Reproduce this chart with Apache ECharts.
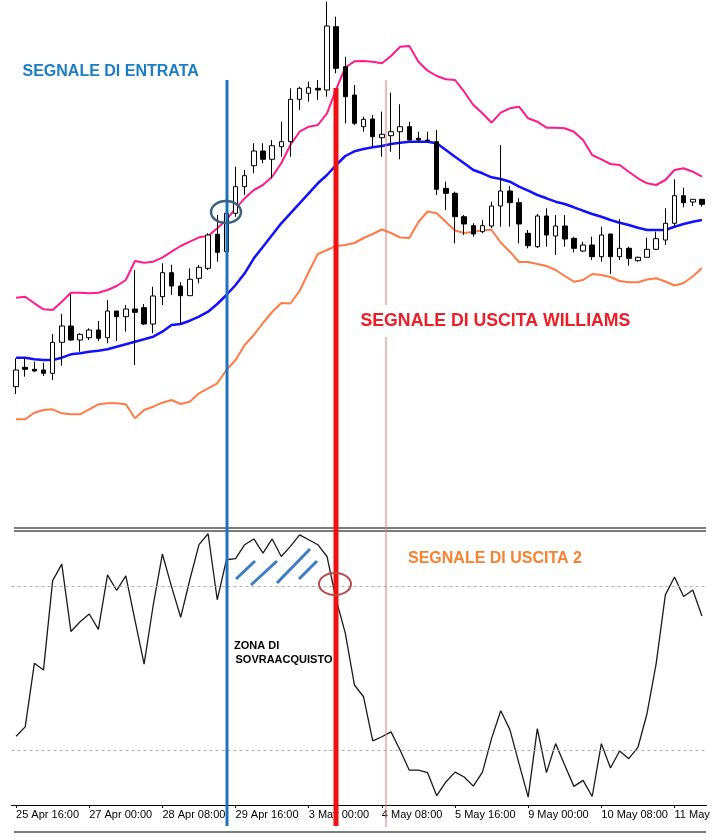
<!DOCTYPE html>
<html>
<head>
<meta charset="utf-8">
<script src="https://cdn.jsdelivr.net/npm/echarts@6/dist/echarts.min.js"></script>
<style>
  html, body { margin: 0; padding: 0; background: #fff; }
  #chart { width: 720px; height: 840px; }
</style>
</head>
<body>
<div id="chart"></div>
<script>
// etichette dell'asse tempo (una ogni 8 candele H4)
const tickLabels = ['25 Apr 16:00', '27 Apr 00:00', '28 Apr 08:00', '29 Apr 16:00', '3 May 00:00',
  '4 May 08:00', '5 May 16:00', '9 May 00:00', '10 May 08:00', '11 May']

// candele: apertura, chiusura, minimo, massimo
const opens = [213.3, 232.7, 230.7, 230, 226.7, 257.7, 274, 260, 262.3, 270,
  262.3, 289, 283.3, 291, 292.3, 276, 303.3, 327.3, 314, 304.3,
  321.7, 331.7, 365.7, 348.3, 386.7, 413.3, 434.3, 449, 440.7, 453.3,
  458.3, 500.7, 506.7, 511.7, 510, 573.3, 533.3, 505, 473.3, 481,
  462.3, 464.3, 468.3, 473.3, 461.7, 460, 458.3, 411.7, 406.7, 383.3,
  374.3, 368.3, 374, 394, 409, 397.3, 366.7, 353.3, 384, 364,
  374, 361.7, 349, 355, 343.3, 366, 343.3, 351.7, 339.3, 342.7,
  350.7, 360, 376.7, 404.3, 398, 400.7]
const closes = [230, 230.7, 229, 226.7, 257.7, 274, 260, 265.7, 270, 261.7,
  289, 283.3, 291, 287.7, 276, 304, 327.3, 314, 304.3, 320.7,
  332.7, 365, 347.7, 386.7, 413.3, 424.3, 449, 440.7, 454.3, 458.3,
  500.7, 511.7, 512.3, 510, 574, 531.7, 503.3, 476.7, 480.7, 463.3,
  465.7, 468.3, 473.3, 460, 460, 459.5, 410.7, 406.7, 383.3, 376,
  366, 374.3, 394, 409, 397.3, 376, 354.3, 384, 365, 374,
  361, 351.7, 355, 343.3, 365, 343.3, 351.7, 341.7, 342.7, 350.7,
  361.3, 376.7, 404.3, 397.3, 400.7, 395.7]
const lows = [206, 223.3, 228.3, 224, 220, 234.3, 259, 248.3, 260, 259,
  256.7, 259, 268.3, 235, 275, 266.7, 295, 305, 276.7, 304,
  316.7, 330, 338.3, 347, 383.3, 405, 426.7, 436.7, 421.7, 443.3,
  443.3, 490, 498.3, 500, 503.3, 526.7, 476.7, 475, 468.3, 453.3,
  443.3, 448.3, 440.7, 458.3, 458.3, 458.3, 405, 390, 356.7, 365,
  363.3, 366.7, 371.7, 373.3, 373.3, 356.7, 351.7, 352, 353.3, 345,
  353.3, 347.7, 347.7, 340, 338.3, 326, 340, 334.3, 338.3, 342.7,
  350, 355, 373.3, 392.7, 394, 393.3]
const highs = [241.7, 241.7, 238.3, 237.3, 266, 286, 306, 266.7, 271.7, 279,
  300, 289, 295, 330, 296, 313.3, 336.7, 335.3, 317.7, 331.7,
  335, 366.7, 385, 389, 433.3, 430, 456.7, 456.7, 460, 478.3,
  511.7, 513.3, 518.3, 520, 598.3, 583.3, 543.3, 515, 483.3, 485,
  488.3, 507.3, 495.7, 478.3, 468.3, 468.3, 470, 418.3, 408.3, 385,
  376.7, 380, 398.3, 455, 414, 401.7, 370, 386, 391.7, 385,
  385, 363.3, 358.3, 363.3, 373.3, 366, 380.7, 353.3, 343.3, 362.3,
  368.3, 391.7, 420.7, 412.3, 401, 400.7]

// bande (superiore, media, inferiore)
const upperBand = [302.3, 303.3, 296.7, 290.7, 290, 298.3, 307.3, 307.3, 306.7, 307.3,
  310, 314, 320, 339, 337.3, 338.3, 342.3, 348.3, 354, 358.3,
  362.7, 364, 371.7, 380, 391.7, 401.7, 410, 415, 423.3, 436.7,
  455, 468.3, 473.3, 475, 486.7, 510.7, 532.5, 538.7, 539, 538.3,
  536.7, 544, 553.3, 554, 538.3, 529.3, 524, 520.7, 520, 508.3,
  495, 486.7, 477.3, 487.3, 491.7, 493.3, 481.7, 478.3, 472.3, 472.3,
  471.7, 468.3, 460, 445, 440.7, 436, 435, 428.3, 421.7, 416.7,
  415, 420, 430, 431.7, 428.3, 423.3]
const middleBand = [242.3, 242.3, 240.7, 240, 240, 242.3, 245.7, 246.7, 248.3, 249.3,
  250.7, 253.3, 255.7, 258.3, 260.7, 263.3, 268.3, 275, 276, 279.3,
  283.3, 288.3, 296, 305, 315, 326.7, 341.7, 353.3, 365, 376.7,
  386.7, 396.7, 406.7, 416.7, 425, 435, 444, 448.7, 451, 452.7,
  454, 456, 457.3, 458.3, 458.3, 458.3, 456.7, 450, 443.3, 436.7,
  430, 426.7, 422.7, 421, 418.3, 413.3, 409.3, 405, 401.7, 398.3,
  396, 392.7, 389.3, 386, 383.3, 380, 377.3, 375, 372.3, 370,
  370, 370, 373.3, 376, 378.3, 380]
const lowerBand = [180.7, 180.7, 187.3, 190, 190.7, 186.7, 185.7, 185.7, 190.7, 195.7,
  196.7, 196.7, 195.7, 181.7, 190, 193.3, 197.3, 200, 196, 198.3,
  206.7, 211.7, 216.7, 230, 240, 255, 265, 277, 288, 297,
  296.5, 309, 328, 346, 350, 354, 355, 357, 362, 366,
  370.5, 367, 362.5, 362, 378, 388.5, 386.7, 378, 369.5, 367,
  368, 370, 370, 357.5, 348.3, 338, 338, 336, 334, 330,
  324, 318.3, 320, 326, 325, 323, 319, 317.7, 317.7, 320.5,
  321.7, 318.5, 314.5, 317, 323.5, 332]

// Williams %R
const wpr = [-74.9, -71.5, -48.3, -50.7, -18.1, -12.1, -36.7, -33.1, -30.3, -35.9,
  -16, -21.7, -16.4, -32.5, -48.6, -27, -8.4, -20.3, -31.5, -17.8,
  -5, -1, -25.1, -10.5, -10.1, -5, -2.9, -8.1, -2.9, -9.3,
  -5.6, -1.4, -3.2, -5, -9.3, -25, -37.3, -56.2, -60.5, -76.6,
  -75.1, -73.3, -80, -87.3, -87.3, -88.2, -96.6, -91.6, -88, -89.8,
  -93.1, -88, -75.7, -65.6, -72.5, -84.9, -97.1, -72.1, -88.2, -77.6,
  -85.5, -93.2, -91, -96.9, -77.6, -86.5, -80.3, -83.1, -79, -66.6,
  -48.3, -23.3, -16.8, -23.9, -21.5, -31]
const wprLevels = [-20, -80]

const categories = opens.map((v, i) => String(i))
const candles = opens.map((o, i) => [o, closes[i], lows[i], highs[i]])

const FONT = 'Liberation Sans'

function vline (x, y1, y2, color, w) {
  return { type: 'line', z: 100, shape: { x1: x, y1: y1, x2: x, y2: y2 }, style: { stroke: color, lineWidth: w } }
}
function hline (y, color, w) {
  return { type: 'line', z: 100, shape: { x1: 14, y1: y, x2: 706, y2: y }, style: { stroke: color, lineWidth: w } }
}
function seg (x1, y1, x2, y2) {
  return { type: 'line', z: 100, shape: { x1: x1, y1: y1, x2: x2, y2: y2 }, style: { stroke: '#3b7cc8', lineWidth: 3 } }
}
function label (text, x, y, color, size) {
  return {
    type: 'text', z: 110, x: x, y: y,
    style: { text: text, fill: color, font: 'bold ' + size + 'px "' + FONT + '"', textAlign: 'left', textVerticalAlign: 'middle' }
  }
}

const myChart = echarts.init(document.getElementById('chart'))
myChart.setOption({
  animation: false,
  backgroundColor: '#ffffff',
  grid: [
    { left: 11.5, width: 695, top: 0, height: 520 },
    { left: 11.5, width: 695, top: 531, height: 274 }
  ],
  xAxis: [
    { type: 'category', gridIndex: 0, data: categories, show: false },
    {
      type: 'category',
      gridIndex: 1,
      data: categories,
      position: 'bottom',
      axisLine: { show: true, onZero: false, lineStyle: { color: '#000', width: 1 } },
      axisTick: { show: true, interval: 7, alignWithLabel: true, length: 3, lineStyle: { color: '#000' } },
      axisLabel: {
        interval: 7,
        align: 'left',
        margin: 4,
        color: '#000',
        fontFamily: FONT,
        fontSize: 11,
        formatter: (v, idx) => tickLabels[idx / 8] || ''
      }
    }
  ],
  yAxis: [
    { type: 'value', gridIndex: 0, min: 80, max: 600, show: false },
    { type: 'value', gridIndex: 1, min: -100, max: 0, show: false }
  ],
  series: [
    {
      type: 'line', xAxisIndex: 0, yAxisIndex: 0, data: upperBand,
      symbol: 'none', lineStyle: { color: '#ff1a8c', width: 2 }, z: 3
    },
    {
      type: 'line', xAxisIndex: 0, yAxisIndex: 0, data: middleBand,
      symbol: 'none', lineStyle: { color: '#1010ff', width: 2.5 }, z: 3
    },
    {
      type: 'line', xAxisIndex: 0, yAxisIndex: 0, data: lowerBand,
      symbol: 'none', lineStyle: { color: '#ff7a45', width: 2 }, z: 3
    },
    {
      type: 'candlestick', xAxisIndex: 0, yAxisIndex: 0, data: candles,
      barWidth: 5, z: 4,
      itemStyle: { color: '#ffffff', color0: '#000000', borderColor: '#000000', borderColor0: '#000000', borderWidth: 1 }
    },
    {
      type: 'line', xAxisIndex: 1, yAxisIndex: 1, data: wpr,
      symbol: 'none', lineStyle: { color: '#1a1a1a', width: 1.3 },
      markLine: {
        silent: true,
        symbol: 'none',
        label: { show: false },
        lineStyle: { color: '#b0b0b0', type: [3, 3], width: 1 },
        data: wprLevels.map(v => ({ yAxis: v }))
      }
    }
  ],
  graphic: [
    hline(528, '#505050', 1.5),
    hline(531, '#505050', 1.5),
    hline(832, '#505050', 1.5),
    vline(227, 80, 826, '#1e73be', 3),
    vline(336, 88, 826, '#f01010', 5),
    vline(386, 80, 305, '#dd7777', 1),
    vline(386, 337, 827, '#dd7777', 1),
    { type: 'ellipse', z: 105, shape: { cx: 226, cy: 212, rx: 15, ry: 11 }, style: { fill: 'none', stroke: '#3d5f82', lineWidth: 2.5 } },
    { type: 'ellipse', z: 105, shape: { cx: 335, cy: 584, rx: 16, ry: 11 }, style: { fill: 'none', stroke: '#b84a4a', lineWidth: 2 } },
    seg(236, 579, 255, 561),
    seg(251, 585, 277, 561),
    seg(277, 583, 310, 549),
    seg(299, 579, 317, 561),
    label('SEGNALE DI ENTRATA', 22.5, 71.5, '#1b7dc4', 16),
    label('SEGNALE DI USCITA WILLIAMS', 360.5, 321.5, '#ee1c25', 17.7),
    label('SEGNALE DI USCITA 2', 408, 559, '#f7812f', 16),
    label('ZONA DI', 234, 645.5, '#000000', 11),
    label('SOVRAACQUISTO', 235.5, 659.5, '#000000', 11)
  ]
})
</script>
</body>
</html>
